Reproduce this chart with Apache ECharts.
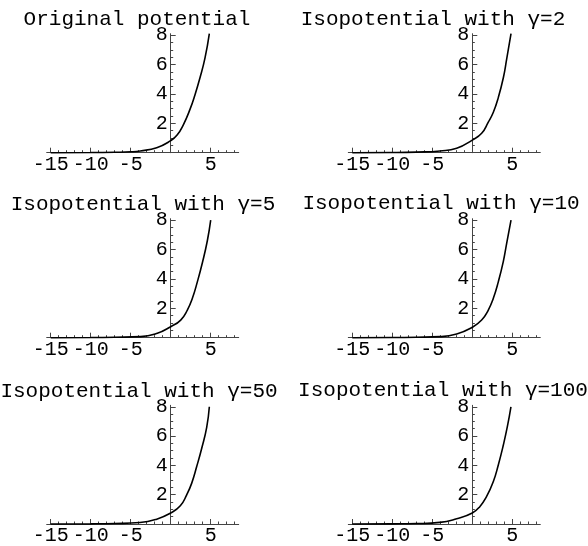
<!DOCTYPE html>
<html><head><meta charset="utf-8">
<script src="https://cdn.jsdelivr.net/npm/echarts@6/dist/echarts.min.js"></script>
<style>html,body{margin:0;padding:0;background:#fff}#c{width:588px;height:546px}</style>
</head><body><div id="c"></div>
<script>
// Panel titles
const titles = ["Original potential", "Isopotential with \u03b3=2", "Isopotential with \u03b3=5",
  "Isopotential with \u03b3=10", "Isopotential with \u03b3=50", "Isopotential with \u03b3=100"];
// Tick labels
const xTickLabels = [-15, -10, -5, 5];
const yTickLabels = [2, 4, 6, 8];
const xMinorTicks = [-15,-14,-13,-12,-11,-10,-9,-8,-7,-6,-5,-4,-3,-2,-1,1,2,3,4,5,6,7,8];
const yMinorTicks = [0.5,1,1.5,2,2.5,3,3.5,4,4.5,5,5.5,6,6.5,7,7.5,8];
// Curves
const xOrig  = [-15, -10, -7, -5, -3.8, -1.75, 0, 0.8, 1.58, 2.41, 3.04, 3.66, 4.29, 4.83];
const yOrig  = [0.0, 0.01, 0.03, 0.06, 0.12, 0.34, 0.82, 1.2, 1.9, 2.95, 3.95, 5.1, 6.45, 8.1];
const xG2    = [-15, -10, -7, -4.04, -1.95, 0, 1.17, 2.0, 2.63, 3.25, 3.88, 4.29, 4.84];
const yG2    = [0.0, 0.01, 0.04, 0.12, 0.3, 0.86, 1.32, 2.08, 2.75, 3.75, 5.1, 6.35, 8.1];
const xG5    = [-15, -10, -7, -3.75, -1.67, 0, 1.25, 2.08, 2.71, 3.33, 3.96, 4.58, 5.0];
const yG5    = [0.0, 0.01, 0.03, 0.07, 0.3, 0.75, 1.2, 1.88, 2.68, 3.8, 5.1, 6.6, 8.0];
const xG10   = [-15, -10, -7, -4.04, -1.95, 0, 1.17, 2.0, 2.63, 3.25, 3.88, 4.29, 4.84];
const yG10   = [0.0, 0.01, 0.03, 0.07, 0.25, 0.71, 1.2, 1.88, 2.68, 3.8, 5.2, 6.4, 8.0];
const xG50   = [-15, -10, -7, -3.84, -1.75, 0, 1.2, 2.0, 2.63, 3.25, 3.88, 4.5, 4.83];
const yG50   = [0.0, 0.01, 0.03, 0.1, 0.33, 0.75, 1.24, 1.99, 2.79, 3.92, 5.17, 6.6, 8.0];
const xG100  = [-15, -10, -7, -4.04, -1.95, 0, 0.96, 1.79, 2.63, 3.25, 3.88, 4.38, 4.83];
const yG100  = [0.0, 0.01, 0.03, 0.11, 0.36, 0.75, 1.2, 1.88, 2.9, 4.03, 5.39, 6.64, 8.0];

const curves = [[xOrig,yOrig],[xG2,yG2],[xG5,yG5],[xG10,yG10],[xG50,yG50],[xG100,yG100]];

// layout
const XMIN = -15.5, XMAX = 8.5, YMIN = 0, YMAX = 8.1;
const colLeft = [46.7, 348.3];
const rowTop = [33.7, 218.7, 405.3];
const gridW = 192, gridH = 119;
const yAxisOffset = -gridW * (0 - XMIN) / (XMAX - XMIN);
const titlePos = [[137,19],[433,19],[143,204],[441,203],[139,391],[443,390]];
const FONT = "'Liberation Mono','Courier New',monospace";
const axisColor = '#444';

const grids=[], xAxes=[], yAxes=[], series=[], graphics=[];
for (let i=0;i<6;i++){
  const r=Math.floor(i/2), c=i%2;
  grids.push({left:colLeft[c], top:rowTop[r], width:gridW, height:gridH, containLabel:false});
  const baseX = {gridIndex:i, type:'value', min:XMIN, max:XMAX, splitLine:{show:false}, position:'bottom'};
  const baseY = {gridIndex:i, type:'value', min:YMIN, max:YMAX, splitLine:{show:false}, position:'left', offset:yAxisOffset};
  xAxes.push(Object.assign({}, baseX, {
    axisLine:{show:true, onZero:false, lineStyle:{color:axisColor,width:1}},
    axisTick:{show:true, inside:true, length:5, customValues:xTickLabels, lineStyle:{color:axisColor}},
    axisLabel:{show:true, customValues:xTickLabels, margin:2, color:'#000', fontFamily:FONT, fontSize:20}
  }));
  xAxes.push(Object.assign({}, baseX, {
    axisLine:{show:false, onZero:false},
    axisTick:{show:true, inside:true, length:2.5, customValues:xMinorTicks, lineStyle:{color:axisColor}},
    axisLabel:{show:false}
  }));
  yAxes.push(Object.assign({}, baseY, {
    axisLine:{show:true, onZero:false, lineStyle:{color:axisColor,width:1}},
    axisTick:{show:true, inside:true, length:5, customValues:yTickLabels, lineStyle:{color:axisColor}},
    axisLabel:{show:true, customValues:yTickLabels, margin:3, color:'#000', fontFamily:FONT, fontSize:20}
  }));
  yAxes.push(Object.assign({}, baseY, {
    axisLine:{show:false, onZero:false},
    axisTick:{show:true, inside:true, length:2.5, customValues:yMinorTicks, lineStyle:{color:axisColor}},
    axisLabel:{show:false}
  }));
  const [xs, ys] = curves[i];
  series.push({
    type:'line', xAxisIndex:2*i, yAxisIndex:2*i, data: xs.map((x,k)=>[x, ys[k]]),
    showSymbol:false, smooth:0.5, clip:false,
    lineStyle:{color:'#000', width:1.6}, silent:true, animation:false
  });
  graphics.push({type:'text', x:titlePos[i][0], y:titlePos[i][1],
    style:{text:titles[i], fill:'#000', font:"21px "+FONT, textAlign:'center', textVerticalAlign:'middle'}});
}

const chart = echarts.init(document.getElementById('c'), null, {renderer:'canvas'});
chart.setOption({
  animation:false,
  backgroundColor:'#fff',
  grid:grids, xAxis:xAxes, yAxis:yAxes, series:series, graphic:graphics
});
</script></body></html>
